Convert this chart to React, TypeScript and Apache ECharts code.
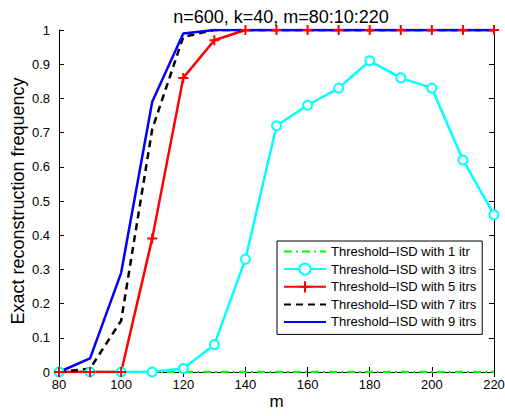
import React, { useEffect, useRef } from "react";
import * as echarts from "echarts";

const mValues = [80, 90, 100, 110, 120, 130, 140, 150, 160, 170, 180, 190, 200, 210, 220];
const itr1 = [0, 0, 0, 0, 0, 0, 0, 0, 0, 0, 0, 0, 0, 0, 0];
const itr3 = [0, 0, 0, 0, 0.01, 0.08, 0.33, 0.72, 0.78, 0.83, 0.91, 0.86, 0.83, 0.62, 0.46];
const itr5 = [0, 0, 0, 0.39, 0.86, 0.97, 1, 1, 1, 1, 1, 1, 1, 1, 1];
const itr7 = [0, 0.01, 0.15, 0.71, 0.98, 1, 1, 1, 1, 1, 1, 1, 1, 1, 1];
const itr9 = [0, 0.04, 0.29, 0.79, 0.99, 1, 1, 1, 1, 1, 1, 1, 1, 1, 1];
const seriesNames = [
  "Threshold–ISD with 1 itr",
  "Threshold–ISD with 3 itrs",
  "Threshold–ISD with 5 itrs",
  "Threshold–ISD with 7 itrs",
  "Threshold–ISD with 9 itrs",
];
const titleText = "n=600, k=40, m=80:10:220";
const xName = "m";
const yName = "Exact reconstruction frequency";

const FONT = "Liberation Sans";

export default function App() {
  const ref = useRef<HTMLDivElement>(null);
  useEffect(() => {
    if (!ref.current) return;
    const chart = echarts.init(ref.current, null, { renderer: "svg" });
    const pairs = (arr: number[]) => mValues.map((m, i) => [m, arr[i]]);
    const axisCommon = {
      type: "value" as const,
      axisLine: { show: true, lineStyle: { color: "#000", width: 1 } },
      axisTick: { show: true, inside: true, length: 5, lineStyle: { color: "#000" } },
      splitLine: { show: false },
    };
    const noSymbol = { itemStyle: { opacity: 0, color: "transparent", borderWidth: 0 } };
    chart.setOption({
      animation: false,
      backgroundColor: "#fff",
      textStyle: { fontFamily: FONT },
      title: {
        text: titleText,
        left: 276,
        top: 3,
        textAlign: "center",
        textStyle: { fontFamily: FONT, fontSize: 18, fontWeight: "normal", color: "#000" },
      },
      grid: {
        left: 59,
        top: 30,
        width: 435,
        height: 342,
        containLabel: false,
        outerBoundsMode: "none",
      },
      legend: {
        orient: "vertical",
        left: 277,
        top: 241,
        padding: [4, 6, 6, 6],
        itemWidth: 42,
        itemHeight: 14,
        itemGap: 4.5,
        itemTextGap: 6,
        backgroundColor: "#fff",
        borderColor: "#000",
        borderWidth: 1,
        borderRadius: 0,
        textStyle: { fontFamily: FONT, fontSize: 13, color: "#000" },
        data: [
          { name: seriesNames[0], ...noSymbol },
          { name: seriesNames[1] },
          { name: seriesNames[2] },
          { name: seriesNames[3], ...noSymbol },
          { name: seriesNames[4], ...noSymbol },
        ],
      },
      xAxis: [
        {
          ...axisCommon,
          min: 80,
          max: 220,
          interval: 20,
          name: xName,
          nameLocation: "middle",
          nameGap: 21,
          nameMoveOverlap: false,
          nameTextStyle: { fontFamily: FONT, fontSize: 17, color: "#000" },
          axisLabel: { margin: 6, lineHeight: 12, fontFamily: FONT, fontSize: 13, color: "#000" },
        },
        {
          ...axisCommon,
          position: "top",
          min: 80,
          max: 220,
          interval: 20,
          axisLabel: { show: false },
        },
      ],
      yAxis: [
        {
          ...axisCommon,
          min: 0,
          max: 1,
          interval: 0.1,
          name: yName,
          nameLocation: "middle",
          nameGap: 32,
          nameMoveOverlap: false,
          nameTextStyle: { fontFamily: FONT, fontSize: 18, color: "#000" },
          axisLabel: {
            margin: 9,
            lineHeight: 12,
            fontFamily: FONT,
            fontSize: 13,
            color: "#000",
            formatter: (v: number) => String(+v.toFixed(1)),
          },
        },
        {
          ...axisCommon,
          position: "right",
          min: 0,
          max: 1,
          interval: 0.1,
          axisLabel: { show: false },
        },
      ],
      series: [
        {
          name: seriesNames[0],
          type: "line",
          data: pairs(itr1),
          symbol: "none",
          lineStyle: { color: "#00ff00", width: 2.5, type: [8, 4, 2, 4] },
          itemStyle: { color: "#00ff00" },
        },
        {
          name: seriesNames[1],
          type: "line",
          data: pairs(itr3),
          symbol: "emptyCircle",
          symbolSize: 9,
          showAllSymbol: true,
          lineStyle: { color: "#00ffff", width: 2.5 },
          itemStyle: { color: "#00ffff", borderColor: "#00ffff", borderWidth: 2 },
        },
        {
          name: seriesNames[2],
          type: "line",
          data: pairs(itr5),
          symbol: "path://M5,0L5,10M0,5L10,5",
          symbolSize: 10,
          showAllSymbol: true,
          lineStyle: { color: "#ff0000", width: 2.5 },
          itemStyle: { color: "#ff0000", borderColor: "#ff0000", borderWidth: 2 },
        },
        {
          name: seriesNames[3],
          type: "line",
          data: pairs(itr7),
          symbol: "none",
          lineStyle: { color: "#000", width: 2.5, type: [7, 5] },
          itemStyle: { color: "#000" },
        },
        {
          name: seriesNames[4],
          type: "line",
          data: pairs(itr9),
          symbol: "none",
          lineStyle: { color: "#0000ff", width: 2.5 },
          itemStyle: { color: "#0000ff" },
        },
      ],
    });
    return () => chart.dispose();
  }, []);
  return (
    <div
      ref={ref}
      style={{ position: "fixed", left: 0, top: 0, width: 505, height: 416 }}
    />
  );
}
